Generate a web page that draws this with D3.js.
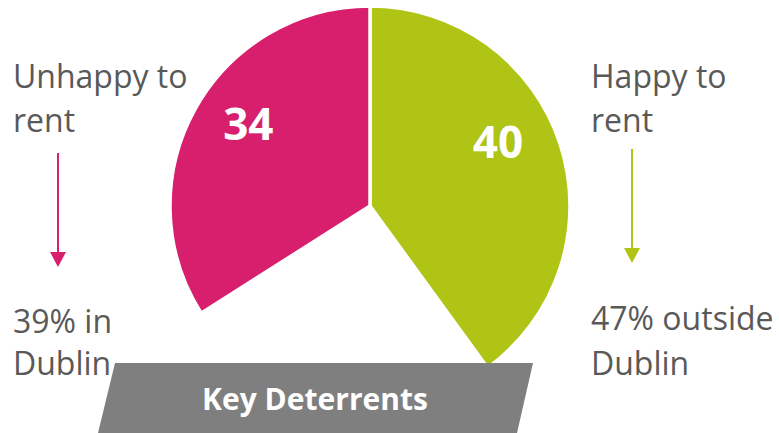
<!DOCTYPE html>
<html>
<head>
<meta charset="utf-8">
<script src="https://cdn.jsdelivr.net/npm/d3@7"></script>
<style>
  html, body { margin: 0; padding: 0; background: #ffffff; }
  svg { display: block; }
</style>
</head>
<body>
<svg id="chart" width="779" height="433"></svg>
<script>
// Share of respondents, drawn clockwise from 12 o'clock; the remainder is left empty
const categories = ["Happy to rent", "Other", "Unhappy to rent"];
const shares = [40, 26, 34];
const shareLabels = ["40", "", "34"];
const sliceColors = ["#afc415", "none", "#d81f6e"];

// Side annotations
const leftHeading = ["Unhappy to", "rent"];
const leftNote = ["39% in", "Dublin"];
const rightHeading = ["Happy to", "rent"];
const rightNote = ["47% outside", "Dublin"];
const bannerText = "Key Deterrents";

const svg = d3.select("#chart");
const font = "'Open Sans', 'Noto Sans', sans-serif";
const textGray = "#595959";

const cx = 370, cy = 206, radius = 200;

const pie = d3.pie().sort(null).value(d => d).startAngle(0).endAngle(2 * Math.PI);
const arcs = pie(shares);
const arc = d3.arc().innerRadius(0).outerRadius(radius);

const g = svg.append("g").attr("transform", `translate(${cx},${cy})`);

g.selectAll("path.slice")
  .data(arcs)
  .join("path")
  .attr("class", "slice")
  .attr("d", arc)
  .attr("fill", (d, i) => sliceColors[i])
  .attr("stroke", (d, i) => sliceColors[i] === "none" ? "none" : "#ffffff")
  .attr("stroke-width", 3.5)
  .attr("stroke-linejoin", "miter");

// Value labels inside the slices, nudged toward the upper part of each slice
const labelArc = d3.arc().innerRadius(radius * 0.62).outerRadius(radius * 0.62);
const labelOffsets = [[10, -27], [0, 0], [-13, -23]];
g.selectAll("text.value")
  .data(arcs.filter((d, i) => shareLabels[i] !== ""))
  .join("text")
  .attr("class", "value")
  .attr("x", d => labelArc.centroid(d)[0] + labelOffsets[d.index][0])
  .attr("y", d => labelArc.centroid(d)[1] + labelOffsets[d.index][1])
  .attr("text-anchor", "middle")
  .attr("dominant-baseline", "central")
  .attr("fill", "#ffffff")
  .attr("font-family", font)
  .attr("font-weight", 700)
  .attr("font-size", 44)
  .text(d => shareLabels[d.index]);

// Side annotations with arrows
function sideBlock(x, arrowX, heading, note, noteY, arrowTop, arrowTip, color) {
  const lineH = 44;
  const size = 32;
  heading.forEach((t, i) => {
    svg.append("text").attr("x", x).attr("y", 88 + i * lineH)
      .attr("fill", textGray).attr("font-family", font).attr("font-size", size)
      .text(t);
  });
  note.forEach((t, i) => {
    svg.append("text").attr("x", x).attr("y", i === 0 ? noteY : 375)
      .attr("fill", textGray).attr("font-family", font).attr("font-size", size)
      .text(t);
  });
  svg.append("line")
    .attr("x1", arrowX).attr("x2", arrowX)
    .attr("y1", arrowTop).attr("y2", arrowTip - 12)
    .attr("stroke", color).attr("stroke-width", 2);
  svg.append("path")
    .attr("d", `M${arrowX - 8},${arrowTip - 15} L${arrowX + 8},${arrowTip - 15} L${arrowX},${arrowTip} Z`)
    .attr("fill", color);
}
sideBlock(13, 58, leftHeading, leftNote, 333, 153, 267, sliceColors[2]);
sideBlock(591, 632, rightHeading, rightNote, 330, 149, 263, sliceColors[0]);

// Banner
svg.append("path")
  .attr("d", "M115,363 L533,363 L517,433 L98,433 Z")
  .attr("fill", "#7f7f7f");
svg.append("text")
  .attr("x", 315).attr("y", 410)
  .attr("text-anchor", "middle")
  .attr("fill", "#ffffff")
  .attr("font-family", font)
  .attr("font-weight", 700)
  .attr("font-size", 30)
  .text(bannerText);
</script>
</body>
</html>
